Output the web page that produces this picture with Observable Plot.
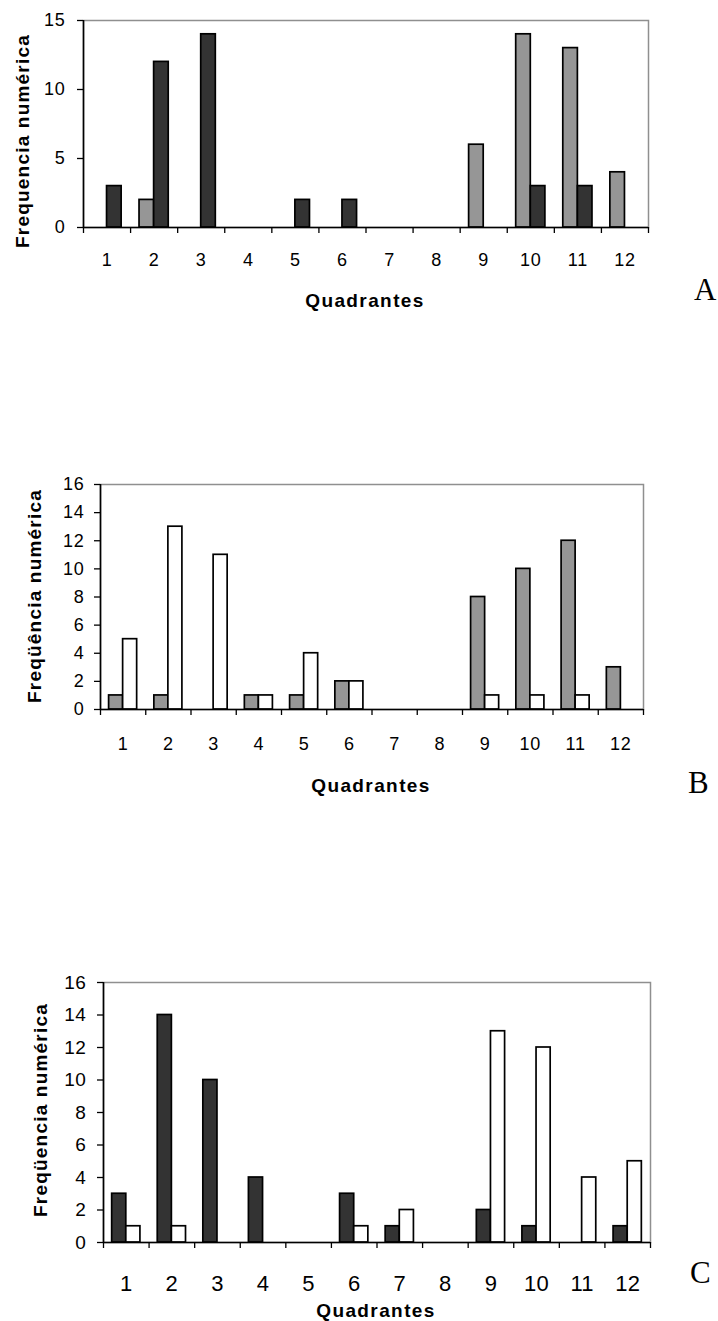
<!DOCTYPE html>
<html><head><meta charset="utf-8">
<script src="https://cdn.jsdelivr.net/npm/d3@7"></script>
<script src="https://cdn.jsdelivr.net/npm/@observablehq/plot@0.6"></script>
<style>
html,body{margin:0;padding:0;background:#fff}
body{width:718px;height:1321px;position:relative;overflow:hidden;font-family:Arial,"Liberation Sans",sans-serif}
.panel{position:absolute;left:0}
#overlay{position:absolute;left:0;top:0;pointer-events:none}
svg.pA g[aria-label="x-axis tick label"], svg.pA g[aria-label="y-axis tick label"]{font-size:18px !important;letter-spacing:0.8px}
svg.pB g[aria-label="x-axis tick label"], svg.pB g[aria-label="y-axis tick label"]{font-size:18px !important;letter-spacing:0.8px}
svg.pC g[aria-label="x-axis tick label"]{font-size:22px !important;letter-spacing:0.3px}
svg.pC g[aria-label="y-axis tick label"]{font-size:19px !important;letter-spacing:0.6px}
</style></head><body>
<div id="pA" class="panel"></div>
<div id="pB" class="panel"></div>
<div id="pC" class="panel"></div>
<svg id="overlay" width="718" height="1321"></svg>
<script>
// ---- data ----
const quadrantes = [1,2,3,4,5,6,7,8,9,10,11,12];
const aGray  = [0,2,0,0,0,0,0,0,6,14,13,4];
const aDark  = [3,12,14,0,2,2,0,0,0,3,3,0];
const bGray  = [1,1,0,1,1,2,0,0,8,10,12,3];
const bWhite = [5,13,11,1,4,2,0,0,1,1,1,0];
const cDark  = [3,14,10,4,0,3,1,0,2,1,0,1];
const cWhite = [1,1,0,0,0,1,2,0,13,12,4,5];
const yTicksA = [0,5,10,15];
const yTicksB = [0,2,4,6,8,10,12,14,16];
const yTicksC = [0,2,4,6,8,10,12,14,16];
const yLabels = ["Frequencia numérica","Freqüência numérica","Freqüencia numérica"];
const xLabel = "Quadrantes";
const panelLetters = ["A","B","C"];

const DARK = "#333333", GRAY = "#969696", WHITE = "#ffffff";
const HALF = 0.31;

function rows(vals){ return quadrantes.map((q,i)=>({q, v: vals[i]})).filter(d=>d.v>0); }

function panel(el, cfg){
  const boundaries = d3.range(0.5, 13, 1);
  const p = Plot.plot({
    className: cfg.cls,
    width: 718, height: cfg.height,
    marginTop: cfg.mt, marginBottom: cfg.mb, marginLeft: cfg.ml, marginRight: cfg.mr,
    style: {fontFamily: 'Arial, "Liberation Sans", sans-serif', color: "#000", background: "#fff", overflow: "visible"},
    x: {type: "linear", domain: [0.5, 12.5], axis: null},
    y: {domain: [0, cfg.ymax], axis: null},
    marks: [
      Plot.frame({stroke: "#8f8f8f", strokeWidth: 1.5}),
      Plot.rectY(rows(cfg.left), {x1: d => d.q - HALF, x2: d => d.q, y1: 0, y2: "v", fill: cfg.leftFill, stroke: "#000", strokeWidth: 1.7}),
      Plot.rectY(rows(cfg.right), {x1: d => d.q, x2: d => d.q + HALF, y1: 0, y2: "v", fill: cfg.rightFill, stroke: "#000", strokeWidth: 1.7}),
      Plot.ruleY([0], {stroke: "#000", strokeWidth: 1.6}),
      Plot.ruleX([0.5], {stroke: "#000", strokeWidth: 1.6}),
      Plot.axisX({ticks: boundaries, tickSize: 6, tickFormat: () => "", label: null, strokeWidth: 1.3}),
      Plot.axisX({ticks: quadrantes, tickSize: 0, tickPadding: cfg.xPad, fontSize: cfg.xFont, label: null}),
      Plot.axisY({ticks: cfg.yticks, tickSize: 6, tickPadding: cfg.yPad, fontSize: cfg.yFont, label: null, strokeWidth: 1.3})
    ]
  });
  el.style.top = cfg.top + "px";
  el.appendChild(p);
}

panel(document.getElementById("pA"), {cls: "pA", top: 0, height: 280, mt: 20, mb: 53, ml: 83, mr: 70, ymax: 15, yticks: yTicksA,
  left: aGray, leftFill: GRAY, right: aDark, rightFill: DARK, xPad: 26, xFont: 18, yPad: 12, yFont: 18});
panel(document.getElementById("pB"), {cls: "pB", top: 460, height: 300, mt: 24, mb: 51, ml: 100, mr: 75, ymax: 16, yticks: yTicksB,
  left: bGray, leftFill: GRAY, right: bWhite, rightFill: WHITE, xPad: 28, xFont: 18, yPad: 10, yFont: 18});
panel(document.getElementById("pC"), {cls: "pC", top: 960, height: 361, mt: 22, mb: 79, ml: 103, mr: 68, ymax: 16, yticks: yTicksC,
  left: cDark, leftFill: DARK, right: cWhite, rightFill: WHITE, xPad: 33, xFont: 22, yPad: 11, yFont: 19});

// ---- titles / labels ----
const ov = d3.select("#overlay");
const yl = [[29,141],[41,596],[47,1110]];
yLabels.forEach((t,i)=>{
  ov.append("text").attr("transform",`translate(${yl[i][0]},${yl[i][1]}) rotate(-90)`)
    .attr("text-anchor","middle").attr("font-weight","bold").attr("font-size",19)
    .attr("letter-spacing","1.2px").attr("font-family",'Arial, "Liberation Sans", sans-serif').text(t);
});
const xl = [[365,307],[371,792],[376,1317]];
xl.forEach(([x,y])=>{
  ov.append("text").attr("x",x).attr("y",y).attr("text-anchor","middle").attr("font-weight","bold")
    .attr("font-size",19).attr("letter-spacing","1.4px").attr("font-family",'Arial, "Liberation Sans", sans-serif').text(xLabel);
});
const ll = [[694,300],[688,793],[690,1283]];
panelLetters.forEach((t,i)=>{
  ov.append("text").attr("x",ll[i][0]).attr("y",ll[i][1]).attr("font-size",31)
    .attr("font-family",'"Times New Roman", "Liberation Serif", serif').text(t);
});
</script>
</body></html>
